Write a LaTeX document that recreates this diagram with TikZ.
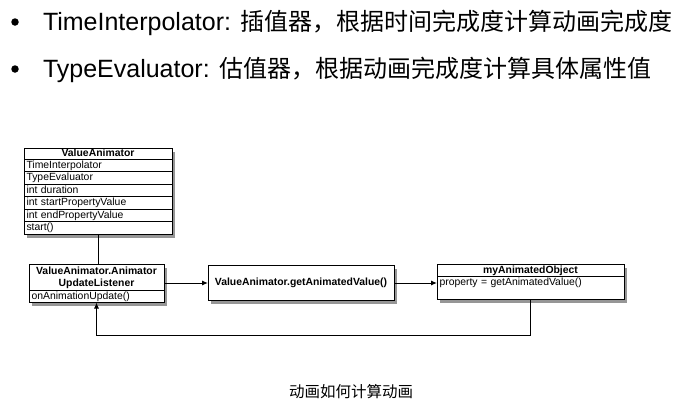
\documentclass[tikz,border=0pt]{standalone}
\usepackage{fontspec}
\setmainfont{Liberation Sans}
\newfontfamily\cjk{Noto Sans CJK SC}
\usetikzlibrary{arrows.meta,positioning,shadows}
\newcommand\zhtext[1]{{\cjk\fontsize{24}{30}\selectfont #1}}

\begin{document}
\begin{tikzpicture}[
  x=1pt, y=-1pt,
  every node/.style={outer sep=0pt},
  boxshadow/.style={drop shadow={shadow xshift=2.5pt,shadow yshift=-3.5pt,opacity=.55,fill=black!75}},
  umlbox/.style={draw,fill=white,line width=1pt,inner sep=0pt,boxshadow},
  head/.style={umlbox,font=\fontsize{10.4}{12}\selectfont\bfseries,align=center},
  field/.style={umlbox,font=\fontsize{10.4}{12}\selectfont,align=left,inner xsep=2.5pt,text height=8pt,text depth=2.5pt},
  bullet/.style={circle,fill=black,inner sep=0pt,minimum size=7.5pt},
  point/.style={anchor=base west,inner sep=0pt,font=\fontsize{25}{30}\selectfont},
  edge/.style={line width=1pt,-{Latex[length=6pt,width=5pt]}},
  link/.style={line width=1pt}
]
\useasboundingbox (0,0) rectangle (679,407);
% bullet points
\node[bullet] (b1) at (15,22) {};
\node[point] (t1) at (43,30) {TimeInterpolator: \zhtext{插值器，根据时间完成度计算动画完成度}};
\node[bullet] (b2) at (15,69) {};
\node[point] (t2) at (43,77) {TypeEvaluator: \zhtext{估值器，根据动画完成度计算具体属性值}};
% ValueAnimator class
\node[head,minimum width=148pt,minimum height=11pt,text height=8pt,text depth=2pt] (vahead) at (98,153.5) {ValueAnimator};
\node[field,minimum width=148pt,minimum height=12.5pt,text width=143pt,below=0pt of vahead] (va1) {TimeInterpolator};
\node[field,minimum width=148pt,minimum height=12.5pt,text width=143pt,below=0pt of va1] (va2) {TypeEvaluator};
\node[field,minimum width=148pt,minimum height=12.5pt,text width=143pt,below=0pt of va2] (va3) {int duration};
\node[field,minimum width=148pt,minimum height=12.5pt,text width=143pt,below=0pt of va3] (va4) {int startPropertyValue};
\node[field,minimum width=148pt,minimum height=12.5pt,text width=143pt,below=0pt of va4] (va5) {int endPropertyValue};
\node[field,minimum width=148pt,minimum height=12.5pt,text width=143pt,below=0pt of va5] (va6) {start()};
% listener
\node[head,minimum width=135pt,minimum height=26pt] (lhead) at (96.5,277.5) {ValueAnimator.Animator\\UpdateListener};
\node[field,minimum width=135pt,minimum height=12pt,text width=130pt,below=0pt of lhead] (lrow) {onAnimationUpdate()};
% getAnimatedValue
\node[head,minimum width=186pt,minimum height=35pt] (getval) at (301,283) {ValueAnimator.getAnimatedValue()};
% myAnimatedObject
\node[head,minimum width=187pt,minimum height=12pt,text height=8pt,text depth=2pt] (objhead) at (530.5,270) {myAnimatedObject};
\node[field,minimum width=187pt,text width=182pt,text height=9.5pt,text depth=13.5pt,below=0pt of objhead] (objbody) {property = getAnimatedValue()};
% connectors
\draw[link] (va6.south) -- (va6.south |- lhead.north);
\draw[edge] (getval -| lhead.east) -- (getval.west);
\draw[edge] (getval.east) -- (getval -| objbody.west);
\draw[edge] (objbody.south) -- ++(0,36) -| (lrow.south);
\node[font=\cjk\fontsize{15.5}{18}\selectfont] (caption) at (351,392) {动画如何计算动画};
\end{tikzpicture}
\end{document}
